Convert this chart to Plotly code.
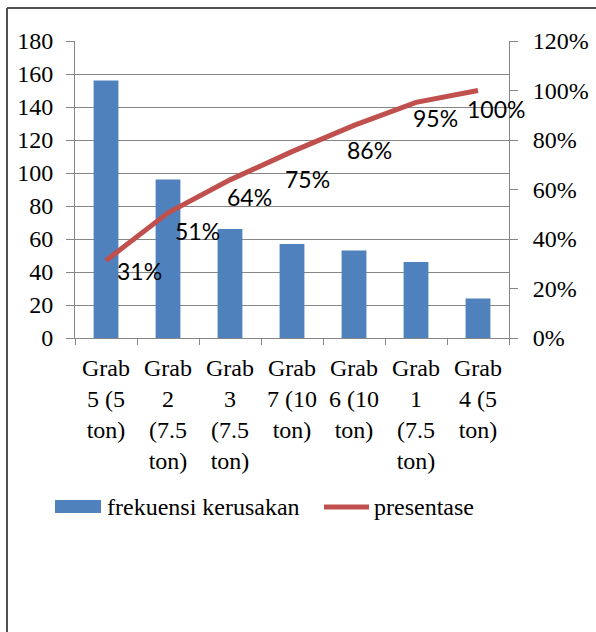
import plotly.graph_objects as go

# ---- data ----
categories = ["Grab 5 (5 ton)", "Grab 2 (7.5 ton)", "Grab 3 (7.5 ton)", "Grab 7 (10 ton)",
              "Grab 6 (10 ton)", "Grab 1 (7.5 ton)", "Grab 4 (5 ton)"]
tick_labels = ["Grab<br>5 (5<br>ton)", "Grab<br>2<br>(7.5<br>ton)", "Grab<br>3<br>(7.5<br>ton)",
               "Grab<br>7 (10<br>ton)", "Grab<br>6 (10<br>ton)", "Grab<br>1<br>(7.5<br>ton)",
               "Grab<br>4 (5<br>ton)"]
frekuensi = [156, 96, 66, 57, 53, 46, 24]
presentase = [0.313, 0.506, 0.639, 0.753, 0.859, 0.952, 1.00]
y_ticks = [0, 20, 40, 60, 80, 100, 120, 140, 160, 180]
y2_ticks = [0, 0.2, 0.4, 0.6, 0.8, 1.0, 1.2]
legend_names = ["frekuensi kerusakan", "presentase"]

# ---- style ----
label_dx = [33, 29, 19, 15, 15, 19, 18]
label_dy = [10, 18, 17, 27, 25, 16, 18]
GRAY = "#868686"
BLUE = "#4F81BD"
RED = "#C0504D"
SERIF_FONT = dict(family="Liberation Serif", size=24, color="black")
LABEL_FONT = dict(family="Lato", size=23, color="black")

fig = go.Figure()
fig.add_trace(go.Bar(
    x=categories, y=frekuensi, name=legend_names[0],
    marker=dict(color=BLUE, line=dict(width=0)), yaxis="y", showlegend=False,
))
fig.add_trace(go.Scatter(
    x=categories, y=presentase, name=legend_names[1], mode="lines",
    line=dict(color=RED, width=5), yaxis="y2", showlegend=False,
))

for c, p, dx, dy in zip(categories, presentase, label_dx, label_dy):
    fig.add_annotation(x=c, y=p, xref="x", yref="y2", text=f"{p:.0%}", showarrow=False,
                       xshift=dx, yshift=-dy, xanchor="center", yanchor="middle",
                       font=LABEL_FONT)

pw, ph = 434.0, 297.0
def px(x):
    return (x - 75) / pw
def py(y):
    return (338 - y) / ph

# outer frame (top and left edges visible)
fig.add_shape(type="line", xref="paper", yref="paper", x0=px(7), x1=px(600), y0=py(8), y1=py(8),
              line=dict(color="#505050", width=2))
fig.add_shape(type="line", xref="paper", yref="paper", x0=px(7), x1=px(7), y0=py(8), y1=py(640),
              line=dict(color="#505050", width=2))

# legend (drawn like the source chart's legend)
fig.add_shape(type="rect", xref="paper", yref="paper", x0=px(55), x1=px(101), y0=py(513), y1=py(500),
              fillcolor=BLUE, line=dict(width=0))
fig.add_shape(type="line", xref="paper", yref="paper", x0=px(324), x1=px(369), y0=py(507), y1=py(507),
              line=dict(color=RED, width=5))
fig.add_annotation(xref="paper", yref="paper", x=px(105), y=py(507), text=legend_names[0],
                   showarrow=False, xanchor="left", yanchor="middle", font=SERIF_FONT)
fig.add_annotation(xref="paper", yref="paper", x=px(372), y=py(507), text=legend_names[1],
                   showarrow=False, xanchor="left", yanchor="middle", font=SERIF_FONT)

fig.update_layout(
    width=596, height=632,
    margin=dict(l=75, r=87, t=41, b=294, autoexpand=False),
    paper_bgcolor="white", plot_bgcolor="white",
    bargap=0.6, showlegend=False,
    font=SERIF_FONT,
    xaxis=dict(type="category", tickmode="array", tickvals=categories, ticktext=tick_labels,
               range=[-0.5, 6.5], tickangle=0, automargin=False,
               showline=True, linecolor=GRAY, linewidth=1, ticks="outside", tickson="boundaries",
               ticklen=6, tickcolor=GRAY, showgrid=False, ticklabelstandoff=8,
               tickfont=SERIF_FONT),
    yaxis=dict(range=[0, 180], tickvals=y_ticks, showline=True, linecolor=GRAY, linewidth=1,
               ticks="outside", ticklen=8, tickcolor=GRAY, showgrid=True, gridcolor=GRAY,
               gridwidth=1, zeroline=False, ticklabelstandoff=8, automargin=False,
               tickfont=SERIF_FONT),
    yaxis2=dict(range=[0, 1.2], tickvals=y2_ticks, tickformat=".0%", overlaying="y", side="right",
                showline=True, linecolor=GRAY, linewidth=1, ticks="outside", ticklen=8,
                tickcolor=GRAY, showgrid=False, zeroline=False, ticklabelstandoff=10,
                automargin=False, tickfont=SERIF_FONT),
)

fig.write_html("out.html")
